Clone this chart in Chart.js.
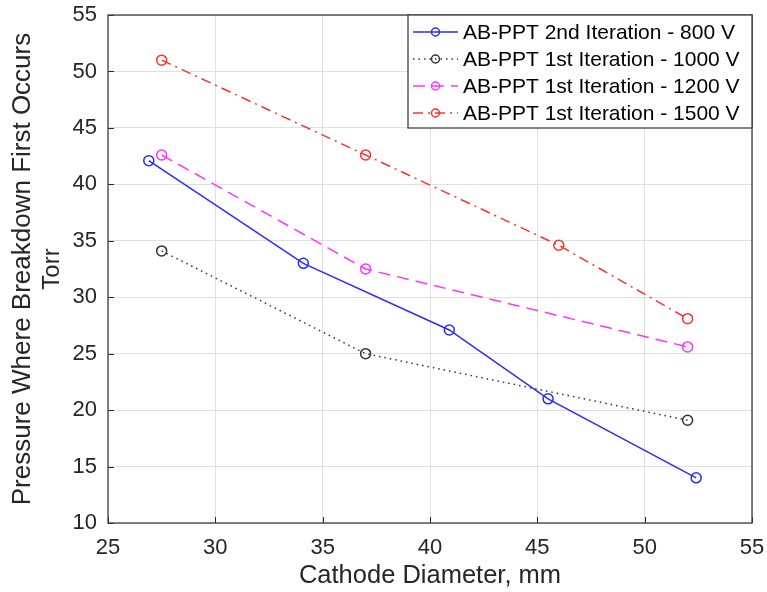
<!DOCTYPE html>
<html>
<head>
<meta charset="utf-8">
<script src="https://cdn.jsdelivr.net/npm/chart.js@4/dist/chart.umd.min.js"></script>
<style>
html,body{margin:0;padding:0;background:#fff;}
#wrap{width:767px;height:592px;}
</style>
</head>
<body>
<div id="wrap"><canvas id="c" width="767" height="592"></canvas></div>
<script>
// ---- data ----
const seriesNames = [
  'AB-PPT 2nd Iteration - 800 V',
  'AB-PPT 1st Iteration - 1000 V',
  'AB-PPT 1st Iteration - 1200 V',
  'AB-PPT 1st Iteration - 1500 V'
];
const x800  = [26.9, 34.1, 40.9, 45.5, 52.4];
const y800  = [42.1, 33.0, 27.1, 21.0, 14.0];
const x1000 = [27.5, 37.0, 52.0];
const y1000 = [34.1, 25.0, 19.1];
const x1200 = [27.5, 37.0, 52.0];
const y1200 = [42.6, 32.5, 25.6];
const x1500 = [27.5, 37.0, 46.0, 52.0];
const y1500 = [51.0, 42.6, 34.6, 28.1];
const xTicks = [25, 30, 35, 40, 45, 50, 55];
const yTicks = [10, 15, 20, 25, 30, 35, 40, 45, 50, 55];
const yTitle1 = 'Pressure Where Breakdown First Occurs';
const yTitle2 = 'Torr';
const xTitle = 'Cathode Diameter, mm';

const pts = (xs, ys) => xs.map((v, i) => ({x: v, y: ys[i]}));
const FONT = "'Liberation Sans', Arial, Helvetica, sans-serif";
const AX = '#262626';

function ds(label, xs, ys, color, dash) {
  return {
    label, data: pts(xs, ys),
    borderColor: color, borderWidth: 1.5, borderDash: dash,
    pointStyle: 'circle', pointRadius: 5, pointHoverRadius: 5,
    pointBorderColor: color, pointBackgroundColor: 'rgba(0,0,0,0)',
    pointBorderWidth: 1.5, fill: false, tension: 0
  };
}

const datasets = [
  ds(seriesNames[0], x800, y800, '#2b2bff', []),
  ds(seriesNames[1], x1000, y1000, '#333333', [1.5, 4]),
  ds(seriesNames[2], x1200, y1200, '#ff33ff', [12, 7]),
  ds(seriesNames[3], x1500, y1500, '#ff3030', [10, 5, 2, 5])
];

const boxPlugin = {
  id: 'box',
  afterDatasetsDraw(chart) {
    const {ctx, chartArea: a, scales} = chart;
    ctx.save();
    ctx.strokeStyle = AX; ctx.lineWidth = 1;
    xTicks.forEach(t => {
      const px = Math.round(scales.x.getPixelForValue(t)) + 0.5;
      ctx.beginPath(); ctx.moveTo(px, a.bottom); ctx.lineTo(px, a.bottom - 6); ctx.stroke();
    });
    yTicks.forEach(t => {
      const py = Math.round(scales.y.getPixelForValue(t)) + 0.5;
      ctx.beginPath(); ctx.moveTo(a.left, py); ctx.lineTo(a.left + 6, py); ctx.stroke();
    });
    ctx.strokeStyle = '#404040'; ctx.lineWidth = 1.3;
    ctx.strokeRect(a.left, a.top, a.right - a.left, a.bottom - a.top);
    ctx.restore();
  },
  afterDraw(chart) {
    const {ctx, chartArea: a} = chart;
    ctx.save();
    // second line of the y-axis title
    ctx.fillStyle = AX;
    ctx.font = '24px ' + FONT;
    ctx.textAlign = 'center'; ctx.textBaseline = 'middle';
    ctx.translate(52, (a.top + a.bottom) / 2);
    ctx.rotate(-Math.PI / 2);
    ctx.fillText(yTitle2, 0, 0);
    ctx.restore();

    // legend
    ctx.save();
    const bx = 408, by = a.top, bw = a.right - 408, bh = 113;
    ctx.fillStyle = '#fff';
    ctx.fillRect(bx, by, bw, bh);
    ctx.strokeStyle = '#404040'; ctx.lineWidth = 1.3;
    ctx.strokeRect(bx, by, bw, bh);
    ctx.font = '21px ' + FONT;
    ctx.textBaseline = 'middle';
    chart.data.datasets.forEach((d, i) => {
      const cy = by + 17 + i * 27;
      ctx.strokeStyle = d.borderColor; ctx.lineWidth = 1.5;
      ctx.setLineDash(d.borderDash);
      ctx.beginPath(); ctx.moveTo(413, cy); ctx.lineTo(458, cy); ctx.stroke();
      ctx.setLineDash([]);
      ctx.beginPath(); ctx.arc(435.5, cy, 4, 0, Math.PI * 2); ctx.stroke();
      ctx.fillStyle = '#000';
      ctx.fillText(d.label, 463, cy + 1);
    });
    ctx.restore();
  }
};

new Chart(document.getElementById('c'), {
  type: 'line',
  data: {datasets},
  plugins: [boxPlugin],
  options: {
    responsive: false, animation: false, devicePixelRatio: 1,
    layout: {padding: {top: 15, right: 15, bottom: 0, left: 0}},
    plugins: {legend: {display: false}, tooltip: {enabled: false}},
    scales: {
      x: {
        type: 'linear', min: 25, max: 55,
        afterFit: s => { s.height = 69; s.paddingLeft = 0; s.paddingRight = 0; },
        afterBuildTicks: s => { s.ticks = xTicks.map(v => ({value: v})); },
        grid: {color: '#e0e0e0', lineWidth: 1, drawTicks: false},
        border: {display: false},
        ticks: {autoSkip: false, maxRotation: 0, padding: 12, color: AX, font: {family: FONT, size: 22}},
        title: {display: true, text: xTitle, color: AX, font: {family: FONT, size: 25.5}, padding: {top: 0, bottom: 1}}
      },
      y: {
        type: 'linear', min: 10, max: 55,
        afterFit: s => { s.width = 108; s.paddingTop = 0; s.paddingBottom = 0; },
        afterBuildTicks: s => { s.ticks = yTicks.map(v => ({value: v})); },
        grid: {color: '#e0e0e0', lineWidth: 1, drawTicks: false},
        border: {display: false},
        ticks: {autoSkip: false, padding: 11, color: AX, font: {family: FONT, size: 22}},
        title: {display: true, text: yTitle1, color: AX, font: {family: FONT, size: 26}, padding: {top: 7, bottom: 0}}
      }
    }
  }
});
</script>
</body>
</html>
